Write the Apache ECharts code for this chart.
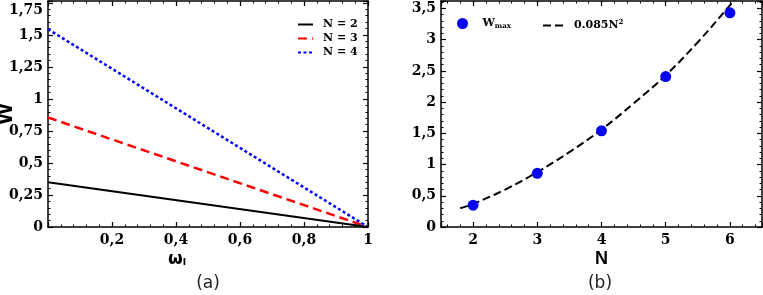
<!DOCTYPE html>
<html>
<head>
<meta charset="utf-8">
<script src="https://cdn.jsdelivr.net/npm/echarts@6/dist/echarts.min.js"></script>
<style>
html,body{margin:0;padding:0;background:#fff;}
#chart{width:763px;height:295px;}
</style>
</head>
<body>
<div id="chart"></div>
<script>
// ---- Data ----
const omega = [0, 1];
const wN2 = [0.35, 0];
const wN3 = [0.855, 0];
const wN4 = [1.545, 0];
const seriesNamesA = ['N = 2', 'N = 3', 'N = 4'];

const nValues = [2, 3, 4, 5, 6];
const wMax = [0.35, 0.86, 1.54, 2.41, 3.43];
const fitN = [1.8, 2, 2.5, 3, 3.5, 4, 4.5, 5, 5.5, 6, 6.1];
const fitW = [0.30, 0.37, 0.60, 0.88, 1.20, 1.56, 1.98, 2.43, 2.96, 3.55, 3.68];

const xTicksA = [0.2, 0.4, 0.6, 0.8, 1];
const yTicksA = [0, 0.25, 0.5, 0.75, 1, 1.25, 1.5, 1.75];
const yTicksB = [0, 0.5, 1, 1.5, 2, 2.5, 3, 3.5];
const xTicksB = [2, 3, 4, 5, 6];

// ---- helpers ----
const zip = (xs, ys) => xs.map((x, i) => [x, ys[i]]);
const fmt = v => String(+v.toFixed(3)).replace('.', ',');
const inList = (list, v) => list.some(t => Math.abs(t - v) < 1e-6);

const labelFont = {fontFamily: 'DejaVu Serif', fontWeight: 'bold', fontSize: 14, color: '#000'};
const axisLineStyle = {show: true, onZero: false, lineStyle: {color: '#000', width: 1.5}};
const tickStyle = {show: true, inside: true, length: 5, lineStyle: {color: '#000', width: 1.2}};
const minorTickStyle = {show: true, splitNumber: 5, length: 2.5, lineStyle: {color: '#000', width: 1}};

function mirrorAxis(base, position) {
  return Object.assign({}, base, {
    position: position,
    name: '',
    axisLabel: {show: false},
    axisTick: tickStyle,
    minorTick: minorTickStyle,
    axisLine: axisLineStyle,
    splitLine: {show: false}
  });
}

const xA = {
  type: 'value', gridIndex: 0, min: 0, max: 1, interval: 0.2,
  axisLine: axisLineStyle, axisTick: tickStyle, minorTick: minorTickStyle,
  splitLine: {show: false},
  axisLabel: Object.assign({margin: 6, formatter: v => inList(xTicksA, v) ? fmt(v) : ''}, labelFont),
  name: '{w|ω}{s|I}', nameLocation: 'middle', nameGap: 24, nameMoveOverlap: false,
  nameTextStyle: {
    padding: [0, 62, 0, 0],
    rich: {
      w: {fontFamily: 'DejaVu Sans', fontWeight: 'bold', fontSize: 17, color: '#000'},
      s: {fontFamily: 'DejaVu Sans', fontWeight: 'bold', fontSize: 9, color: '#000', padding: [7, 0, 0, 0]}
    }
  }
};
const yA = {
  type: 'value', gridIndex: 0, min: 0, max: 1.765, interval: 0.25,
  axisLine: axisLineStyle, axisTick: tickStyle, minorTick: minorTickStyle,
  splitLine: {show: false},
  axisLabel: Object.assign({
    margin: 5, showMaxLabel: false,
    formatter: v => {
      if (!inList(yTicksA, v)) return '';
      if (Math.abs(v - 1.75) < 1e-6) return '{d|' + fmt(v) + '}';
      return fmt(v);
    },
    rich: {d: Object.assign({padding: [14, 0, 0, 0]}, labelFont)}
  }, labelFont),
  name: 'W', nameLocation: 'middle', nameGap: 31, nameMoveOverlap: false,
  nameTextStyle: {fontFamily: 'Liberation Sans', fontWeight: 'bold', fontSize: 24, color: '#000'}
};
const xB = {
  type: 'value', gridIndex: 1, min: 1.5, max: 6.5, splitNumber: 5,
  axisLine: axisLineStyle, axisTick: tickStyle, minorTick: minorTickStyle,
  splitLine: {show: false},
  axisLabel: Object.assign({margin: 6, showMinLabel: false, showMaxLabel: false,
    formatter: v => inList(xTicksB, v) ? fmt(v) : ''}, labelFont),
  name: 'N', nameLocation: 'middle', nameGap: 23, nameMoveOverlap: false,
  nameTextStyle: {fontFamily: 'Liberation Sans', fontWeight: 'bold', fontSize: 18, color: '#000'}
};
const yB = {
  type: 'value', gridIndex: 1, min: 0, max: 3.62, interval: 0.5,
  axisLine: axisLineStyle, axisTick: tickStyle, minorTick: minorTickStyle,
  splitLine: {show: false},
  axisLabel: Object.assign({margin: 5, showMaxLabel: false,
    formatter: v => inList(yTicksB, v) ? fmt(v) : ''}, labelFont)
};

const legendFont = {fontFamily: 'DejaVu Serif', fontWeight: 'bold', fontSize: 11, color: '#000'};

const option = {
  animation: false,
  backgroundColor: '#fff',
  grid: [
    {left: 48, right: 395, top: 1, bottom: 68, containLabel: false, outerBoundsMode: 'none'},
    {left: 441, right: 1, top: 1, bottom: 68, containLabel: false, outerBoundsMode: 'none'}
  ],
  xAxis: [xA, mirrorAxis(xA, 'top'), xB, mirrorAxis(xB, 'top')],
  yAxis: [yA, mirrorAxis(yA, 'right'), yB, mirrorAxis(yB, 'right')],
  legend: [
    {
      data: seriesNamesA, orient: 'vertical', left: 297, top: 19, padding: 0,
      itemWidth: 15, itemHeight: 10, itemGap: 3,
      itemStyle: {opacity: 0},
      formatter: '{t|{name}}',
      textStyle: {rich: {t: Object.assign({padding: [0, 0, 0, 5]}, legendFont)}}
    },
    {
      data: [{name: 'Wmax', icon: 'circle'}], left: 457, top: 18, padding: 0,
      itemWidth: 30, itemHeight: 11,
      itemStyle: {opacity: 1},
      formatter: () => '{w|W}{s|max}',
      textStyle: {rich: {
        w: Object.assign({}, legendFont, {fontSize: 11}),
        s: Object.assign({}, legendFont, {fontSize: 7, padding: [5, 0, 0, 0]})
      }}
    },
    {
      data: ['fit'], left: 542, top: 19, padding: 0,
      itemWidth: 21, itemHeight: 10,
      itemStyle: {opacity: 0},
      formatter: () => '{a|0.085N}{p|2}',
      textStyle: {rich: {
        a: Object.assign({padding: [0, 0, 0, 5]}, legendFont),
        p: Object.assign({}, legendFont, {fontSize: 7, padding: [0, 0, 6, 0]})
      }}
    }
  ],
  series: [
    {name: 'N = 2', type: 'line', xAxisIndex: 0, yAxisIndex: 0, data: zip(omega, wN2),
      symbol: 'circle', showSymbol: false, color: '#000', lineStyle: {color: '#000', width: 2, type: 'solid'}, z: 3},
    {name: 'N = 3', type: 'line', xAxisIndex: 0, yAxisIndex: 0, data: zip(omega, wN3),
      symbol: 'circle', showSymbol: false, color: '#ff0000', lineStyle: {color: '#ff0000', width: 2.5, type: [9, 5]}, z: 2},
    {name: 'N = 4', type: 'line', xAxisIndex: 0, yAxisIndex: 0, data: zip(omega, wN4),
      symbol: 'circle', showSymbol: false, color: '#0000ff', lineStyle: {color: '#0000ff', width: 2.5, type: [3, 2.5]}, z: 2},
    {name: 'fit', type: 'line', xAxisIndex: 2, yAxisIndex: 2, data: zip(fitN, fitW),
      symbol: 'circle', showSymbol: false, smooth: 0.4, clip: true, color: '#000',
      lineStyle: {color: '#000', width: 2, type: [8, 4]}, z: 2},
    {name: 'Wmax', type: 'scatter', xAxisIndex: 2, yAxisIndex: 2, data: zip(nValues, wMax),
      symbol: 'circle', symbolSize: 11, color: '#0505f0', itemStyle: {color: '#0505f0', opacity: 1}, z: 5}
  ],
  graphic: [
    {type: 'text', x: 208, y: 284, style: {text: '(a)', fontFamily: 'DejaVu Sans', fontSize: 17,
      fill: '#222', align: 'center', verticalAlign: 'middle'}},
    {type: 'text', x: 600, y: 284, style: {text: '(b)', fontFamily: 'DejaVu Sans', fontSize: 17,
      fill: '#222', align: 'center', verticalAlign: 'middle'}}
  ]
};

const chart = echarts.init(document.getElementById('chart'), null, {renderer: 'canvas'});
chart.setOption(option);
</script>
</body>
</html>
